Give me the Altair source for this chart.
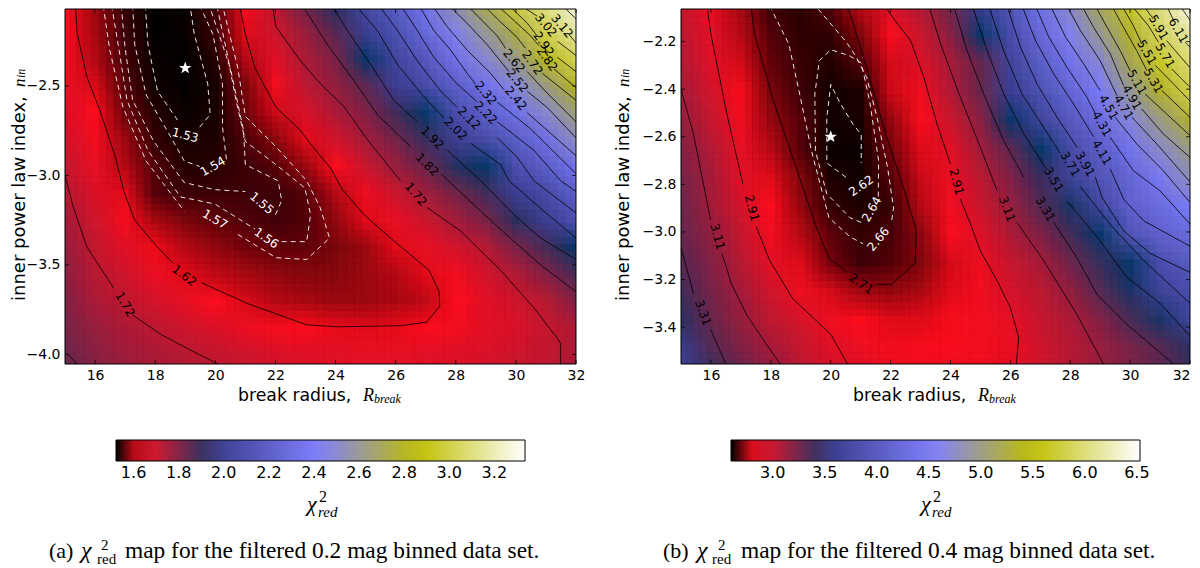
import altair as alt
import pandas as pd

# ---------- heat-map values (rows top to bottom, columns x = 15..32)
col_x = [15,16,17,18,19,20,21,22,23,24,25,26,27,28,29,30,31,32]
row_y_a = [-2.05,-2.20,-2.35,-2.50,-2.65,-2.80,-2.95,-3.10,-3.25,-3.40,-3.55,-3.70,-3.85,-4.00,-4.15]
grid_a = [
 [1.63,1.59,1.546,1.525,1.528,1.555,1.64,1.72,1.83,1.93,2.06,2.2,2.37,2.56,2.73,2.98,3.12,3.27],
 [1.635,1.595,1.548,1.525,1.527,1.548,1.62,1.70,1.77,1.86,1.99,2.12,2.28,2.45,2.6,2.74,3.02,3.17],
 [1.645,1.60,1.553,1.527,1.525,1.54,1.60,1.67,1.74,1.81,1.965,2.04,2.17,2.34,2.49,2.62,2.82,3.03],
 [1.66,1.615,1.56,1.531,1.525,1.533,1.575,1.645,1.72,1.775,1.85,1.99,2.08,2.21,2.35,2.48,2.63,2.81],
 [1.675,1.63,1.57,1.54,1.528,1.534,1.57,1.61,1.68,1.745,1.80,1.89,1.97,2.095,2.22,2.335,2.50,2.65],
 [1.69,1.645,1.59,1.545,1.533,1.537,1.556,1.58,1.62,1.69,1.755,1.82,1.905,2.0,2.085,2.2,2.33,2.52],
 [1.71,1.66,1.60,1.558,1.54,1.54,1.55,1.56,1.59,1.635,1.70,1.77,1.83,1.93,1.97,2.105,2.21,2.35],
 [1.73,1.675,1.62,1.56,1.549,1.55,1.55,1.55,1.56,1.60,1.65,1.70,1.76,1.82,1.89,2.0,2.08,2.21],
 [1.75,1.695,1.64,1.595,1.575,1.565,1.558,1.552,1.558,1.585,1.62,1.66,1.70,1.755,1.81,1.92,2.0,2.11],
 [1.77,1.71,1.665,1.625,1.60,1.585,1.572,1.565,1.565,1.575,1.59,1.62,1.66,1.69,1.73,1.81,1.885,1.97],
 [1.785,1.725,1.695,1.655,1.62,1.605,1.595,1.585,1.58,1.58,1.59,1.60,1.62,1.645,1.69,1.735,1.80,1.88],
 [1.80,1.745,1.715,1.685,1.66,1.635,1.615,1.60,1.595,1.59,1.59,1.595,1.605,1.635,1.665,1.695,1.725,1.80],
 [1.815,1.77,1.74,1.72,1.695,1.675,1.655,1.64,1.63,1.622,1.62,1.622,1.63,1.645,1.665,1.68,1.71,1.735],
 [1.83,1.79,1.76,1.74,1.725,1.71,1.695,1.68,1.67,1.665,1.66,1.66,1.665,1.67,1.68,1.695,1.71,1.74],
 [1.85,1.81,1.78,1.76,1.745,1.73,1.715,1.70,1.69,1.685,1.68,1.68,1.685,1.69,1.70,1.715,1.73,1.76],
]
row_y_b = [-2.05,-2.17,-2.29,-2.41,-2.53,-2.65,-2.77,-2.89,-3.01,-3.13,-3.25,-3.37,-3.49,-3.61]
grid_b = [
 [3.0,2.89,2.75,2.66,2.645,2.68,2.78,2.94,3.07,3.28,3.62,3.95,4.38,4.75,5.17,5.68,6.05,6.45],
 [3.03,2.91,2.77,2.68,2.645,2.65,2.72,2.85,2.99,3.18,3.56,3.83,4.24,4.60,4.93,5.34,5.91,6.16],
 [3.06,2.93,2.80,2.695,2.655,2.635,2.68,2.80,2.94,3.09,3.29,3.71,4.07,4.39,4.69,5.19,5.68,5.98],
 [3.11,2.96,2.83,2.715,2.66,2.62,2.63,2.79,2.87,3.06,3.28,3.62,3.91,4.21,4.51,4.91,5.34,5.82],
 [3.15,3.0,2.86,2.74,2.68,2.62,2.625,2.74,2.85,2.99,3.18,3.56,3.71,4.01,4.29,4.66,5.0,5.31],
 [3.2,3.06,2.90,2.77,2.68,2.615,2.62,2.71,2.81,2.91,3.11,3.31,3.57,3.82,4.08,4.41,4.74,5.0],
 [3.24,3.1,2.92,2.81,2.72,2.63,2.62,2.68,2.79,2.89,3.03,3.21,3.42,3.68,3.95,4.22,4.48,4.8],
 [3.27,3.10,2.96,2.84,2.74,2.65,2.63,2.655,2.77,2.87,2.99,3.13,3.33,3.51,3.75,4.15,4.31,4.51],
 [3.29,3.16,3.0,2.87,2.77,2.69,2.65,2.67,2.73,2.85,2.93,3.07,3.21,3.39,3.565,3.93,4.14,4.27],
 [3.33,3.2,3.05,2.91,2.81,2.71,2.66,2.68,2.72,2.8,2.88,3.0,3.09,3.26,3.43,3.565,3.85,4.06],
 [3.4,3.24,3.1,2.97,2.88,2.8,2.75,2.74,2.76,2.81,2.86,2.96,3.03,3.15,3.34,3.5,3.67,3.85],
 [3.47,3.28,3.15,3.02,2.95,2.88,2.84,2.81,2.81,2.83,2.87,2.9,3.0,3.08,3.2,3.37,3.52,3.71],
 [3.6,3.35,3.21,3.1,3.0,2.93,2.89,2.86,2.85,2.85,2.87,2.89,2.97,3.05,3.13,3.23,3.32,3.47],
 [3.7,3.45,3.3,3.17,3.05,2.97,2.93,2.9,2.88,2.88,2.89,2.91,2.98,3.05,3.13,3.22,3.3,3.4],
]

# ---------- contours: (x, y) runs, with the gaps where a label sits
black_a = {
 "1.62": [[(15.34,-2.05),(15.41,-2.21),(15.73,-2.45),(16.17,-2.64),(16.68,-2.90),(16.96,-3.09),(17.32,-3.25),(18.02,-3.39),(18.59,-3.49)],
          [(19.54,-3.60),(21.13,-3.72),(23.04,-3.835),(24.06,-3.846),(26.17,-3.84),(27.03,-3.82),(27.47,-3.73),(27.44,-3.646),(27.11,-3.53),(25.83,-3.35),(24.95,-3.22),(24.23,-3.08),(23.84,-2.96),(23.17,-2.825),(22.84,-2.75),(22.02,-2.62),(21.32,-2.40),(21.0,-2.21),(20.81,-2.05)]],
 "1.72l": [[(15,-3.0),(15.28,-3.18),(15.73,-3.40),(16.62,-3.63)],[(17.25,-3.78),(18.2,-3.89),(19.22,-3.98),(20.1,-4.055)]],
 "1.72": [[(21.9,-2.05),(22.02,-2.17),(22.84,-2.36),(23.4,-2.47),(24.3,-2.62),(25.06,-2.80),(26.16,-3.03)],
          [(27.05,-3.18),(28.16,-3.31),(29.49,-3.53),(30.6,-3.74),(31.38,-3.91),(31.49,-3.94),(31.49,-4.055)]],
 "1.82l": [[(15.1,-4.0),(15.4,-4.054)]],
 "1.82": [[(22.9,-2.05),(23.73,-2.27),(24.61,-2.47),(25.39,-2.66),(26.5,-2.84)],[(27.5,-2.99),(28.83,-3.2),(29.94,-3.37),(30.82,-3.5),(32,-3.65)]],
 "1.92": [[(23.89,-2.05),(24.39,-2.19),(25.17,-2.38),(25.94,-2.58),(26.72,-2.70)],[(27.72,-2.86),(28.83,-3.03),(29.94,-3.22),(30.82,-3.35),(32,-3.47)]],
 "2.02": [[(24.67,-2.05),(25.39,-2.19),(26.06,-2.38),(26.94,-2.56),(27.61,-2.68)],[(28.49,-2.82),(29.49,-2.94),(29.77,-3.03),(30.93,-3.2),(32,-3.35)]],
 "2.12": [[(25.45,-2.05),(26.06,-2.19),(26.72,-2.36),(27.5,-2.53),(28.05,-2.62)],[(29.38,-2.79),(30.05,-2.9),(30.6,-3.03),(32,-3.21)]],
 "2.22": [[(26.17,-2.05),(26.72,-2.19),(27.27,-2.34),(28.05,-2.49),(28.72,-2.59)],[(29.38,-2.70),(30.6,-2.86),(31.49,-3.03),(32,-3.09)]],
 "2.32": [[(26.78,-2.05),(27.27,-2.19),(27.83,-2.30),(28.38,-2.43),(28.66,-2.49)],[(29.38,-2.59),(30.49,-2.74),(32,-2.99)]],
 "2.42": [[(27.22,-2.05),(27.72,-2.17),(28.38,-2.30),(29.16,-2.43),(29.6,-2.52)],[(30.38,-2.65),(32,-2.89)]],
 "2.52": [[(27.77,-2.05),(28.38,-2.15),(29.05,-2.27),(29.77,-2.42)],[(30.38,-2.53),(31.04,-2.62),(32,-2.79)]],
 "2.62": [[(28.38,-2.05),(28.88,-2.135),(29.38,-2.22),(29.66,-2.29)],[(30.38,-2.42),(31.04,-2.54),(32,-2.70)]],
 "2.72": [[(28.94,-2.05),(29.38,-2.125),(30.05,-2.23),(30.32,-2.29)],[(30.88,-2.43),(32,-2.58)]],
 "2.82": [[(29.38,-2.05),(29.94,-2.135),(30.49,-2.22),(30.77,-2.275)],[(31.27,-2.405),(32,-2.51)]],
 "2.92": [[(29.77,-2.05),(30.38,-2.15),(30.71,-2.22)],[(31.38,-2.34),(32,-2.42)]],
 "3.02": [[(30.16,-2.05),(30.71,-2.11)],[(31.38,-2.25),(32,-2.33)]],
 "3.12": [[(31.04,-2.05)],[(31.76,-2.21),(32,-2.26)]],
 "3.22": [[(31.54,-2.05),(32,-2.125)]],
}
white_a = {
 "1.53": [[(17.67,-2.05),(17.76,-2.27),(18.08,-2.53),(18.78,-2.70)],[(19.48,-2.73),(19.83,-2.66),(19.75,-2.49),(19.3,-2.21),(19.16,-2.05)]],
 "1.54": [[(17.25,-2.05),(17.32,-2.27),(17.7,-2.55),(18.33,-2.73),(18.97,-2.92),(19.48,-2.95)],[(20.37,-2.91),(20.24,-2.73),(20.24,-2.49),(19.92,-2.21),(19.48,-2.05)]],
 "1.55": [[(16.87,-2.05),(17.0,-2.29),(17.25,-2.58),(17.95,-2.81),(18.97,-3.04),(19.99,-3.08),(21.0,-3.09)],[(22.0,-3.22),(22.21,-3.14),(22.09,-3.03),(21.0,-2.94),(20.94,-2.75),(20.5,-2.40),(19.8,-2.05)]],
 "1.56": [[(16.55,-2.05),(16.8,-2.30),(17.06,-2.58),(17.76,-2.86),(18.84,-3.12),(19.99,-3.16),(20.8,-3.245),(21.32,-3.30)],[(22.21,-3.37),(23.04,-3.37),(23.17,-3.22),(22.98,-3.07),(22.02,-2.94),(21.0,-2.81),(20.69,-2.58),(20.37,-2.30),(20.05,-2.05)]],
 "1.57": [[(16.27,-2.05),(16.49,-2.30),(16.93,-2.62),(17.7,-2.92),(18.97,-3.2)],[(20.75,-3.33),(22.02,-3.46),(23.04,-3.47),(23.8,-3.35),(23.49,-3.18),(23.04,-3.03),(22.02,-2.84),(21.0,-2.67),(20.75,-2.40),(20.24,-2.05)]],
}
black_b = {
 "2.71": [[(17.33,-2.05),(17.46,-2.17),(18.09,-2.45),(18.85,-2.73),(19.49,-2.97),(19.94,-3.11),(20.57,-3.17)],[(21.5,-3.22),(22.04,-3.22),(22.82,-3.13),(22.86,-2.995),(22.42,-2.81),(21.84,-2.59),(21.15,-2.29),(20.57,-2.05)]],
 "2.91l": [[(15.87,-2.05),(16,-2.17),(16.56,-2.52),(17.07,-2.80)],[(17.52,-2.98),(17.96,-3.12),(18.73,-3.28),(20,-3.43),(20.57,-3.556)]],
 "2.91": [[(21.8,-2.05),(22.2,-2.12),(22.67,-2.196),(23.11,-2.35),(23.56,-2.55),(24.0,-2.715)],[(24.33,-2.862),(24.67,-2.967),(25.0,-3.08),(25.56,-3.206),(26.0,-3.318),(26.28,-3.444),(26.2,-3.555)]],
 "3.11l": [[(15,-2.40),(15.42,-2.59),(15.99,-2.95)],[(16.37,-3.09),(16.69,-3.22),(17.2,-3.35),(17.84,-3.47),(18.32,-3.556)]],
 "3.11": [[(23.28,-2.05),(23.67,-2.21),(24.33,-2.434),(25.0,-2.645),(25.56,-2.827)],[(26.22,-2.96),(27.11,-3.12),(28.22,-3.346),(29.11,-3.555)]],
 "3.31l": [[(15,-3.065),(15.42,-3.26)],[(15.99,-3.41),(16.5,-3.556)]],
 "3.31": [[(24.11,-2.05),(24.56,-2.24),(25.11,-2.42),(25.78,-2.617),(26.45,-2.77)],[(27.45,-2.96),(28.22,-3.108),(28.89,-3.262),(29.89,-3.388),(31.45,-3.555)]],
 "3.51": [[(24.73,-2.05),(25.23,-2.24),(25.78,-2.42),(26.45,-2.588),(27.23,-2.74)],[(27.89,-2.87),(28.89,-3.02),(29.89,-3.19),(31,-3.30),(32,-3.437)]],
 "3.71": [[(25.28,-2.05),(25.78,-2.24),(26.39,-2.42),(27.11,-2.56),(27.67,-2.67)],[(28.34,-2.81),(29.34,-2.97),(30.45,-3.12),(32,-3.30)]],
 "3.91": [[(25.89,-2.05),(26.34,-2.224),(26.89,-2.378),(27.56,-2.518),(28.23,-2.645)],[(28.84,-2.77),(29.06,-2.855),(29.78,-2.995),(30.67,-3.09),(32,-3.17)]],
 "4.11": [[(26.39,-2.05),(26.84,-2.196),(27.45,-2.336),(28.11,-2.462),(28.78,-2.6)],[(29.34,-2.736),(29.78,-2.862),(30.45,-2.953),(32,-3.06)]],
 "4.31": [[(26.84,-2.05),(27.28,-2.18),(27.89,-2.308),(28.56,-2.434),(28.84,-2.504)],[(29.34,-2.603),(30.11,-2.743),(31,-2.827),(32,-2.967)]],
 "4.51": [[(27.34,-2.05),(27.84,-2.18),(28.45,-2.294),(29.0,-2.406)],[(29.5,-2.518),(30.22,-2.63),(31.11,-2.743),(32,-2.876)]],
 "4.71": [[(27.89,-2.05),(28.34,-2.154),(29.0,-2.28),(29.56,-2.427)],[(30.06,-2.518),(30.89,-2.63),(32,-2.79)]],
 "4.91": [[(28.39,-2.05),(28.78,-2.14),(29.34,-2.252),(29.78,-2.385)],[(30.39,-2.483),(31.11,-2.588),(32,-2.687)]],
 "5.11": [[(28.84,-2.05),(29.23,-2.14),(29.67,-2.238),(30.0,-2.322)],[(30.5,-2.42),(31.22,-2.504),(32,-2.595)]],
 "5.31": [[(29.39,-2.05),(29.78,-2.14),(30.22,-2.238),(30.56,-2.322)],[(31.06,-2.406),(32,-2.518)]],
 "5.51": [[(29.73,-2.05),(30.11,-2.133),(30.39,-2.21)],[(30.84,-2.30),(31.45,-2.378),(32,-2.45)]],
 "5.71": [[(30.06,-2.05),(30.61,-2.133),(30.95,-2.203)],[(31.39,-2.315),(32,-2.392)]],
 "5.91": [[(30.45,-2.05),(30.78,-2.105)],[(31.22,-2.196),(32,-2.31)]],
 "6.11": [[(31.22,-2.05),(31.45,-2.11)],[(31.84,-2.203),(32,-2.224)]],
 "6.31": [[(31.67,-2.05),(32,-2.11)]],
}
white_b = {
 "2.66": [[(17.96,-2.05),(18.6,-2.21),(18.98,-2.43),(19.36,-2.66),(19.94,-2.94),(20.64,-3.02),(21.08,-3.05)],[(22.04,-2.95),(22.1,-2.90),(21.9,-2.73),(21.55,-2.52),(21.2,-2.35),(20.83,-2.26),(20.51,-2.20),(19.49,-2.05)]],
 "2.64": [[(21.02,-2.96),(20.64,-2.94),(19.87,-2.84),(19.49,-2.66),(19.47,-2.42),(19.62,-2.28),(20,-2.234),(20.64,-2.26),(21.02,-2.29),(21.3,-2.45),(21.6,-2.70),(21.59,-2.855)]],
 "2.62": [[(20.51,-2.77),(19.87,-2.71),(19.87,-2.52),(20,-2.38),(20.32,-2.46),(20.76,-2.55),(21.02,-2.59),(21.02,-2.71)]],
}

# ---------- contour labels: text, x, y, rotation
labels_a = [("1.62",18.97,-3.56,38),("1.72",17.0,-3.72,60),("1.72",26.67,-3.105,50),("1.82",27.05,-2.94,45),
 ("1.92",27.22,-2.79,45),("2.02",28.0,-2.74,45),("2.12",28.44,-2.68,45),("2.22",29.0,-2.65,45),("2.32",29.0,-2.54,50),
 ("2.42",30.0,-2.57,50),("2.52",30.05,-2.47,50),("2.62",29.94,-2.36,50),("2.72",30.55,-2.37,55),("2.82",31.04,-2.35,55),
 ("2.92",30.93,-2.265,55),("3.02",31.0,-2.16,50),("3.12",31.54,-2.165,50)]
labels_a_w = [("1.53",19.0,-2.775,15),("1.54",19.92,-2.95,-30),("1.55",21.55,-3.155,40),("1.56",21.7,-3.35,35),("1.57",19.99,-3.245,30)]
labels_b = [("2.71",21.02,-3.217,35),("2.91",17.37,-2.90,75),("2.91",24.2,-2.79,75),("3.11",16.22,-3.02,75),("3.11",25.89,-2.904,70),
 ("3.31",15.74,-3.34,70),("3.31",27.17,-2.904,60),("3.51",27.45,-2.78,60),("3.71",28.0,-2.715,60),("3.91",28.5,-2.715,60),
 ("4.11",29.06,-2.666,60),("4.31",29.06,-2.546,60),("4.51",29.28,-2.476,60),("4.71",29.78,-2.476,60),("4.91",30.06,-2.434,60),
 ("5.11",30.23,-2.37,60),("5.31",30.78,-2.364,60),("5.51",30.56,-2.245,60),("5.71",31.17,-2.259,60),("5.91",30.95,-2.14,60),("6.11",31.61,-2.154,60)]
labels_b_w = [("2.62",21.02,-2.806,-35),("2.64",21.37,-2.904,-60),("2.66",21.59,-3.03,-50)]

star_a = (19.0,-2.4)
star_b = (20.0,-2.6)

x_ticks = [16,18,20,22,24,26,28,30,32]
y_ticks_a = [-2.5,-3.0,-3.5,-4.0]
y_ticks_b = [-2.2,-2.4,-2.6,-2.8,-3.0,-3.2,-3.4]
bar_ticks_a = [1.6,1.8,2.0,2.2,2.4,2.6,2.8,3.0,3.2]
bar_ticks_b = [3.0,3.5,4.0,4.5,5.0,5.5,6.0,6.5]

cmap_stops = [0,0.06,0.247,0.25,0.495,0.74,1]
cmap_colors = ["#000000","#ff1020","#0b3a70","#3b3f90","#8080ff","#bfbf00","#ffffff"]

SANS = "DejaVu Sans"
SERIF = "Liberation Serif"
STAR = "M0,-1L0.235,-0.32L0.95,-0.31L0.38,0.12L0.59,0.81L0,0.4L-0.59,0.81L-0.38,0.12L-0.95,-0.31L-0.235,-0.32Z"
H = 355
# sub-cell offsets at which the value cells are overlaid, so the image reads as smooth
SHIFTS = [-0.375, 0.375, -0.125, 0.125]


def txt(s, x, y, size, font=SANS, style="normal", angle=0):
    return alt.Chart(pd.DataFrame({"t": [s]})).mark_text(
        font=font, fontSize=size, fontStyle=style, angle=angle, align="left",
        baseline="alphabetic", color="black", clip=False
    ).encode(x=alt.value(x), y=alt.value(y), text="t:N")


def lines_df(contours):
    out = []
    for lev, segs in contours.items():
        for i, seg in enumerate(segs):
            for k, (x, y) in enumerate(seg):
                out.append({"x": x, "y": y, "s": f"{lev}-{i}", "k": k})
    return pd.DataFrame(out)


def panel(grid, row_y, blk, wht, lab, lab_w, star, y_ticks, bar_ticks, vmin, vmax, ydom, W,
          ytitle_x, xt_x, xr_x, barx, cap_a, chi_x, sup_x, sub_x, cap_x, tit_chi_x, cap_lab, flush):
    span = vmax - vmin
    scale = alt.Scale(domain=[vmin + f * span for f in cmap_stops], range=cmap_colors,
                      interpolate="rgb", clamp=True)
    xs = alt.Scale(domain=[15, 32], nice=False, zero=False)
    ys = alt.Scale(domain=ydom, nice=False, zero=False)
    xax = alt.X("x0:Q", scale=xs, title=None,
                axis=alt.Axis(values=x_ticks, format="d", ticks=False, domain=False, grid=False,
                              labelFont=SANS, labelFontSize=14, labelPadding=4, labelColor="black", labelFlush=flush))
    yax = alt.Y("y0:Q", scale=ys, title=None,
                axis=alt.Axis(values=y_ticks, format=".1f", ticks=False, domain=False, grid=False,
                              labelFont=SANS, labelFontSize=14, labelPadding=5, labelColor="black"))
    dy = abs(row_y[1] - row_y[0])
    layers = []
    offsets = [(a, b) for a in SHIFTS for b in SHIFTS]
    for n, (ox, oy) in enumerate(offsets):
        rows = []
        for r, yy in zip(grid, row_y):
            for v, xx in zip(r, col_x):
                rows.append({"x0": xx + ox - 0.5, "x1": xx + ox + 0.5,
                             "y0": yy + oy * dy - dy / 2, "y1": yy + oy * dy + dy / 2, "v": v})
        d = pd.DataFrame(rows)
        if n == 0:
            legend = alt.Legend(type="gradient", orient="none", legendX=barx, legendY=431, direction="horizontal",
                                gradientLength=409, gradientThickness=21, gradientStrokeColor="black",
                                gradientStrokeWidth=1, title=None, values=bar_ticks, labelFont=SANS,
                                labelFontSize=16, labelColor="black", labelOffset=4, format=".1f")
            ch = alt.Chart(d).mark_rect(clip=True).encode(
                x=xax, x2="x1:Q", y=yax, y2="y1:Q",
                color=alt.Color("v:Q", scale=scale, legend=legend))
        else:
            ch = alt.Chart(d).mark_rect(clip=True, opacity=1 / (n + 1)).encode(
                x=alt.X("x0:Q", scale=xs), x2="x1:Q", y=alt.Y("y0:Q", scale=ys), y2="y1:Q",
                color=alt.Color("v:Q", scale=scale, legend=None))
        layers.append(ch)
    X = alt.X("x:Q", scale=xs)
    Y = alt.Y("y:Q", scale=ys)
    layers.append(alt.Chart(lines_df(blk)).mark_line(color="black", strokeWidth=0.8, clip=True).encode(
        x=X, y=Y, detail="s:N", order="k:Q"))
    layers.append(alt.Chart(lines_df(wht)).mark_line(color="white", strokeWidth=0.9, strokeDash=[5, 4], clip=True).encode(
        x=X, y=Y, detail="s:N", order="k:Q"))
    for data, c in ((lab, "black"), (lab_w, "white")):
        ld = pd.DataFrame(data, columns=["t", "x", "y", "a"])
        layers.append(alt.Chart(ld).mark_text(font=SANS, fontSize=12, color=c, clip=False).encode(
            x=X, y=Y, text="t:N", angle=alt.Angle("a:Q", scale=None)))
    layers.append(alt.Chart(pd.DataFrame({"x": [star[0]], "y": [star[1]]})).mark_point(
        shape=STAR, filled=True, color="white", opacity=1, size=170).encode(x=X, y=Y))
    # inward ticks on all four sides
    tx = pd.DataFrame({"x": x_ticks})
    ty = pd.DataFrame({"y": y_ticks})
    tick = dict(color="black", strokeWidth=0.8)
    layers.append(alt.Chart(tx).mark_rule(**tick).encode(x=X, y=alt.value(H), y2=alt.value(H - 4)))
    layers.append(alt.Chart(tx).mark_rule(**tick).encode(x=X, y=alt.value(0), y2=alt.value(4)))
    layers.append(alt.Chart(ty).mark_rule(**tick).encode(y=Y, x=alt.value(0), x2=alt.value(4)))
    layers.append(alt.Chart(ty).mark_rule(**tick).encode(y=Y, x=alt.value(W), x2=alt.value(W - 4)))
    # frame
    layers.append(alt.Chart(pd.DataFrame({"a": [0]})).mark_rect(fillOpacity=0, stroke="black", strokeWidth=1).encode(
        x=alt.value(0), x2=alt.value(W), y=alt.value(0), y2=alt.value(H)))
    # white marker that fixes how far the layout reaches to the left of the plot
    layers.append(alt.Chart(pd.DataFrame({"a": [0]})).mark_rule(color="white", strokeWidth=1).encode(
        x=alt.value(-56), y=alt.value(0), y2=alt.value(1)))
    # axis titles, written as separate runs because they mix fonts
    layers.append(txt("inner power law index,", ytitle_x, 292, 18, angle=270))
    layers.append(txt("n", ytitle_x, 78, 17, SERIF, "italic", 270))
    layers.append(txt("in", ytitle_x, 69, 12, SERIF, "italic", 270))
    layers.append(txt("break radius,", xt_x, 392, 17.3))
    layers.append(txt("R", xr_x, 392, 18, SERIF, "italic"))
    layers.append(txt("break", xr_x + 11, 394, 12, SERIF, "italic"))
    # colour-bar title
    layers.append(txt("χ", tit_chi_x, 502, 22, SERIF, "italic"))
    layers.append(txt("2", tit_chi_x + 12, 493, 16, SERIF))
    layers.append(txt("red", tit_chi_x + 11, 508, 15, SERIF, "italic"))
    # caption
    layers.append(txt(cap_lab, cap_a, 549, 22, SERIF))
    layers.append(txt("χ", chi_x, 549, 24, SERIF, "italic"))
    layers.append(txt("2", sup_x, 541, 15, SERIF))
    layers.append(txt("red", sub_x, 555, 15, SERIF))
    layers.append(txt("map for the filtered %s mag binned data set." % ("0.2" if cap_lab == "(a)" else "0.4"), cap_x, 549, 23.4, SERIF))
    return alt.layer(*layers).properties(width=W, height=H).resolve_scale(color="shared")


left = panel(grid_a, row_y_a, black_a, white_a, labels_a, labels_a_w, star_a, y_ticks_a, bar_ticks_a,
             1.522, 3.336, [-4.054, -2.07], 511,
             ytitle_x=-40, xt_x=173, xr_x=298, barx=51,
             cap_a=-16, chi_x=16, sup_x=36, sub_x=32, cap_x=60, tit_chi_x=242, cap_lab="(a)", flush=False)
right = panel(grid_b, row_y_b, black_b, white_b, labels_b, labels_b_w, star_b, y_ticks_b, bar_ticks_b,
              2.6, 6.53, [-3.555, -2.063], 509,
              ytitle_x=-52, xt_x=172, xr_x=297, barx=50,
              cap_a=-18, chi_x=16, sup_x=37, sub_x=31, cap_x=60, tit_chi_x=240, cap_lab="(b)", flush=True)

chart = alt.hconcat(left, right, spacing=105, bounds="flush").resolve_scale(color="independent").configure_view(stroke=None).properties(
    padding={"left": 0, "top": 0, "right": 0, "bottom": 0}, background="white")

chart.save("out.html", embed_options={"renderer": "svg", "actions": False})
